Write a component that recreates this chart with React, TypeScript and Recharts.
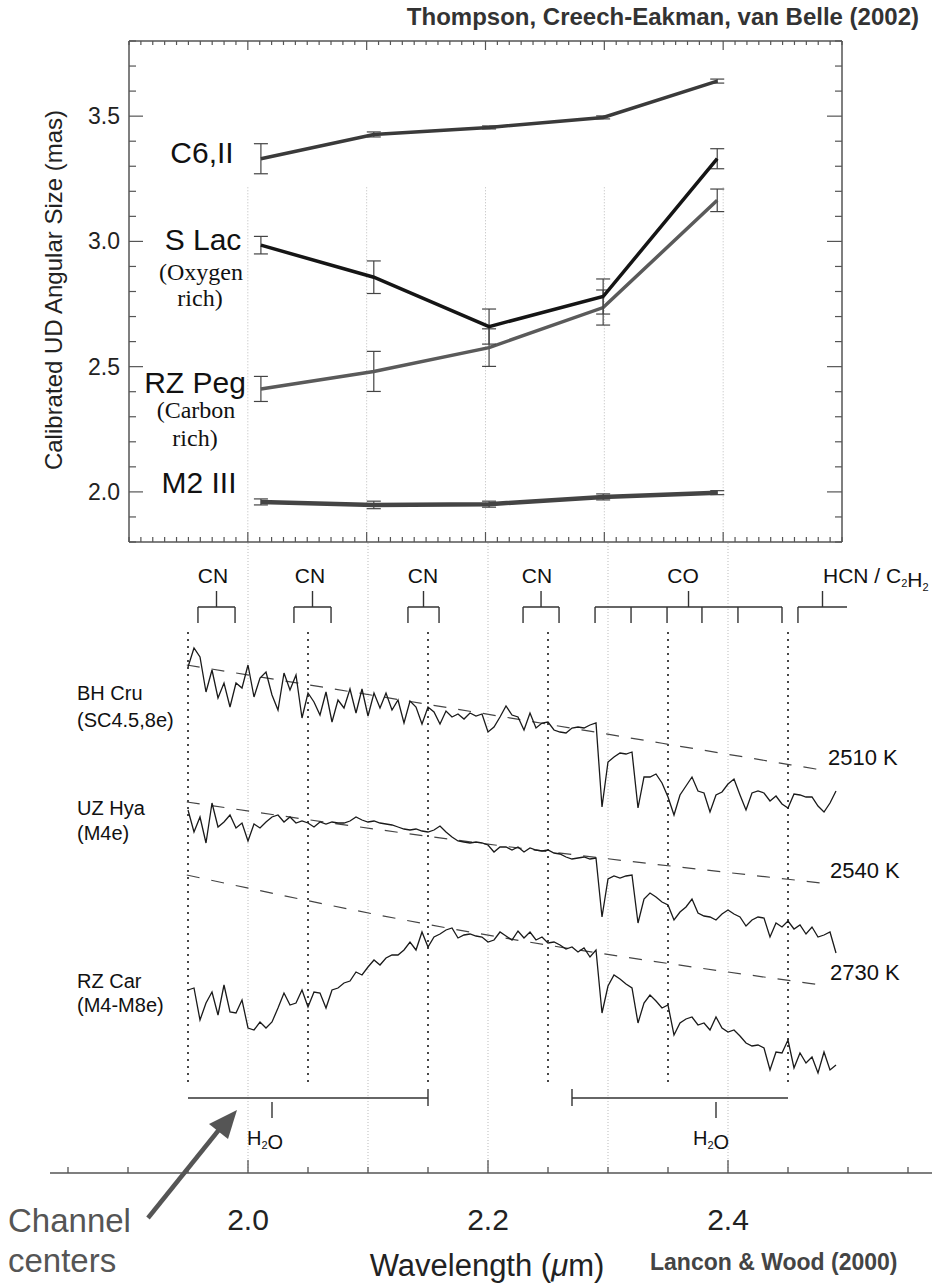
import React from "react";
import { ComposedChart, Line, XAxis, YAxis, ErrorBar, ReferenceLine } from "recharts";

const SANS = '"Liberation Sans", Arial, Helvetica, sans-serif';
const SERIF = '"Liberation Serif", "Times New Roman", serif';

// ---- top panel: calibrated UD diameters in the five channels ----
const CHANNEL_WL = [2.011, 2.106, 2.203, 2.299, 2.395];
const C6II = [3.33, 3.427, 3.455, 3.495, 3.64];
const C6II_ERR = [0.06, 0.01, 0.006, 0.006, 0.008];
const SLAC = [2.985, 2.857, 2.66, 2.78, 3.33];
const SLAC_ERR = [0.035, 0.065, 0.07, 0.07, 0.04];
const RZPEG = [2.411, 2.481, 2.576, 2.736, 3.164];
const RZPEG_ERR = [0.05, 0.08, 0.075, 0.07, 0.045];
const M2III = [1.96, 1.948, 1.951, 1.98, 1.997];
const M2III_ERR = [0.012, 0.015, 0.012, 0.012, 0.008];

const CHANNEL_CENTERS = [2.0, 2.1, 2.2, 2.3, 2.4];
const CHANNEL_EDGES = [1.95, 2.05, 2.15, 2.25, 2.35, 2.45];
const Y_TICK_LABELS = [2.0, 2.5, 3.0, 3.5];
const BOTTOM_TICKS = [1.85, 1.9, 1.95, 2.0, 2.05, 2.1, 2.15, 2.2, 2.25, 2.3, 2.35, 2.4, 2.45, 2.5, 2.55];
const BOTTOM_TICK_LABELS = [2.0, 2.2, 2.4];

// ---- bottom panel: Lancon & Wood spectra, sampled every 0.005 um from 1.95 um ----
const BH_CRU = [
  50.6, 52.5, 51.6, 48.1, 50.3, 47.5, 49.0, 46.6, 49.0, 48.5, 50.8, 47.6, 49.5, 50.1, 47.8, 46.3, 50.0, 48.3,
  49.8, 45.5, 48.0, 47.1, 45.8, 48.1, 45.1, 47.3, 46.5, 48.4, 46.0, 48.4, 45.7, 48.0, 46.5, 48.0, 46.3, 47.3,
  45.0, 47.2, 46.6, 44.9, 46.6, 46.1, 44.9, 46.2, 45.6, 45.9, 45.4, 46.0, 45.7, 45.9, 44.1, 44.6, 45.6, 46.7,
  45.8, 45.6, 44.3, 46.0, 44.5, 45.0, 45.1, 44.3, 44.1, 44.0, 44.5, 44.6, 44.5, 44.8, 45.0,
  36.6, 41.1, 41.6, 42.0, 41.9, 42.1, 36.5, 39.6, 39.6, 39.9, 39.0, 37.6, 35.8, 37.8, 38.7, 39.6, 38.2, 38.0,
  36.1, 37.8, 38.1, 38.9, 39.4, 37.8, 36.3, 38.0, 38.2, 38.0, 37.2, 37.7, 36.9, 36.5, 37.9, 37.8, 37.6, 37.6,
  36.7, 36.1, 37.0, 38.2,
];
const UZ_HYA = [
  36.3, 34.1, 35.6, 33.0, 37.0, 34.6, 35.1, 35.8, 34.5, 35.0, 33.2, 34.9, 34.5, 35.1, 35.6, 35.8, 35.1, 35.6,
  35.0, 35.2, 35.0, 34.6, 35.1, 34.9, 35.1, 35.0, 35.0, 35.2, 35.6, 35.3, 35.1, 35.2, 35.0, 34.9, 34.8, 34.6,
  34.4, 34.3, 34.4, 34.2, 34.1, 34.3, 34.7, 34.1, 33.6, 33.2, 33.1, 33.0, 33.1, 33.0, 32.8, 32.1, 32.6, 32.6,
  32.3, 32.6, 32.1, 32.5, 32.3, 32.2, 32.3, 32.0, 31.9, 31.6, 31.4, 31.5, 31.6, 31.4, 31.5,
  25.6, 29.4, 29.7, 29.5, 29.7, 29.8, 25.0, 27.4, 28.0, 27.6, 27.1, 26.8, 25.3, 26.1, 26.6, 27.4, 26.0, 25.7,
  25.6, 25.3, 25.9, 26.3, 25.9, 25.6, 24.7, 25.3, 25.6, 25.5, 23.6, 25.0, 24.6, 25.2, 24.4, 24.8, 23.9, 24.6,
  23.6, 23.8, 24.1, 22.0,
];
const RZ_CAR = [
  18.3, 18.5, 15.3, 17.0, 18.1, 15.8, 18.8, 16.1, 16.0, 17.3, 14.5, 14.3, 15.1, 14.5, 15.1, 16.5, 18.0, 16.8,
  17.0, 18.3, 16.6, 18.1, 18.0, 16.5, 18.3, 18.5, 19.0, 19.2, 20.1, 19.8, 20.6, 21.3, 20.8, 21.5, 21.8, 21.8,
  22.3, 23.1, 22.3, 24.1, 22.6, 23.6, 23.9, 24.3, 24.5, 23.5, 23.8, 23.9, 23.7, 23.6, 23.1, 23.3, 24.1, 23.7,
  23.3, 24.2, 23.5, 24.1, 23.3, 23.6, 23.0, 23.1, 22.8, 22.4, 22.6, 22.1, 22.5, 21.6, 22.3,
  16.0, 18.7, 19.8, 19.4, 18.9, 18.5, 15.0, 17.0, 17.8, 17.2, 16.5, 16.8, 13.8, 15.0, 15.4, 15.6, 14.8, 15.0,
  14.3, 15.6, 14.5, 14.1, 14.3, 13.7, 13.0, 12.7, 12.8, 12.5, 10.3, 12.1, 12.0, 13.3, 10.5, 12.0, 11.0, 11.6,
  10.0, 12.1, 10.3, 10.8,
];
const SPEC_WL = BH_CRU.map((_, i) => Math.round((1.95 + i * 0.005) * 1000) / 1000);

// blackbody continua (dashed)
const CONT_WL = [1.949, 2.148, 2.478];
const BH_CONT = [50.8, 46.9, 40.3];
const UZ_CONT = [37.1, 33.7, 29.0];
const RZ_CONT = [29.8, 24.9, 18.8];

// band markers
const CN_BANDS = [
  [1.9583, 1.9892],
  [2.0383, 2.0692],
  [2.1333, 2.1592],
  [2.2292, 2.2592],
];
const CO_LEGS = [2.2892, 2.3192, 2.3492, 2.3783, 2.4083, 2.445];
const HCN_BAND = [2.4583, 2.4992];
const H2O_BANDS = [
  { from: 1.95, to: 2.15, end: 2.15, stem: 2.02 },
  { from: 2.27, to: 2.45, end: 2.27, stem: 2.39 },
];

const topData = CHANNEL_WL.map((wl, i) => ({
  wl,
  c6: C6II[i],
  c6Err: C6II_ERR[i],
  slac: SLAC[i],
  slacErr: SLAC_ERR[i],
  rzpeg: RZPEG[i],
  rzpegErr: RZPEG_ERR[i],
  m2: M2III[i],
  m2Err: M2III_ERR[i],
}));
const spectrum = (flux: number[]) => flux.map((f, i) => ({ wl: SPEC_WL[i], f }));
const continuum = (flux: number[]) => flux.map((f, i) => ({ wl: CONT_WL[i], f }));

const TOP_X_TICKS = Array.from({ length: 61 }, (_, i) => Math.round((1.9 + i * 0.01) * 100) / 100);
const TOP_Y_TICKS = Array.from({ length: 21 }, (_, i) => Math.round((1.8 + i * 0.1) * 10) / 10);

const isIn = (v: number, list: number[]) => list.some((m) => Math.abs(m - v) < 1e-6);
const AXIS = "#555";

// inward-pointing tick marks
const xTick = (dir: number, minor: number, major: number) => (p: any) => {
  const len = isIn(p.payload.value, CHANNEL_CENTERS) ? major : minor;
  return <line x1={p.x} x2={p.x} y1={p.y} y2={p.y + dir * len} stroke={AXIS} strokeWidth={1.2} />;
};
const leftYTick = (p: any) => {
  const v = p.payload.value;
  const major = isIn(v, Y_TICK_LABELS);
  return (
    <g>
      <line x1={p.x} x2={p.x + (major ? 14 : 7)} y1={p.y} y2={p.y} stroke={AXIS} strokeWidth={1.2} />
      {major && (
        <text x={p.x - 9} y={p.y + 8} textAnchor="end" fontSize={23} fill="#222" fontFamily={SANS}>
          {v.toFixed(1)}
        </text>
      )}
    </g>
  );
};
const rightYTick = (p: any) => {
  const major = isIn(p.payload.value, Y_TICK_LABELS);
  return <line x1={p.x} x2={p.x - (major ? 15 : 7)} y1={p.y} y2={p.y} stroke={AXIS} strokeWidth={1.2} />;
};
const bottomTick = (p: any) => {
  const v = p.payload.value;
  const major = isIn(v, BOTTOM_TICK_LABELS);
  return (
    <g>
      <line x1={p.x} x2={p.x} y1={p.y} y2={p.y - (major ? 13 : 6)} stroke={AXIS} strokeWidth={1.3} />
      {major && (
        <text x={p.x} y={p.y + 57} textAnchor="middle" fontSize={30} fill="#222" fontFamily={SANS}>
          {v.toFixed(1)}
        </text>
      )}
    </g>
  );
};

// bracket geometry (bottom panel y units)
const BR_TOP = 58.2;
const BR_BAR = 56.6;
const BR_LEG = 55.0;
type Seg = [number, number, number, number];
const bracketSegs: Seg[] = [];
const addBracket = (from: number, to: number, legs: number[], stem: number) => {
  bracketSegs.push([from, BR_BAR, to, BR_BAR]);
  legs.forEach((l) => bracketSegs.push([l, BR_BAR, l, BR_LEG]));
  bracketSegs.push([stem, BR_TOP, stem, BR_BAR]);
};
CN_BANDS.forEach(([a, b]) => addBracket(a, b, [a, b], (a + b) / 2));
addBracket(CO_LEGS[0], CO_LEGS[CO_LEGS.length - 1], CO_LEGS, (CO_LEGS[0] + CO_LEGS[CO_LEGS.length - 1]) / 2);
addBracket(HCN_BAND[0], HCN_BAND[1], [HCN_BAND[0]], (HCN_BAND[0] + HCN_BAND[1]) / 2);
H2O_BANDS.forEach((b) => {
  bracketSegs.push([b.from, 7.5, b.to, 7.5]);
  bracketSegs.push([b.end, 8.4, b.end, 6.7]);
  bracketSegs.push([b.stem, 7.1, b.stem, 5.5]);
});

function TopPanel() {
  // axes are 1px thick so the plot box is 129..842 x 41..542
  return (
    <ComposedChart width={938} height={560} data={topData} margin={{ top: 40, right: 95, bottom: 17, left: 128 }}>
      <XAxis xAxisId="x" dataKey="wl" type="number" domain={[1.9, 2.5]} allowDataOverflow height={1}
        ticks={TOP_X_TICKS} interval={0} tickSize={0} tickMargin={0} tickLine={false}
        tick={xTick(-1, 5, 10)} axisLine={{ stroke: AXIS, strokeWidth: 1.5 }} />
      <XAxis xAxisId="xt" dataKey="wl" type="number" orientation="top" domain={[1.9, 2.5]} allowDataOverflow height={1}
        ticks={TOP_X_TICKS} interval={0} tickSize={0} tickMargin={0} tickLine={false}
        tick={xTick(1, 4, 9)} axisLine={{ stroke: AXIS, strokeWidth: 1.5 }} />
      <YAxis yAxisId="y" type="number" domain={[1.8, 3.8]} allowDataOverflow width={1}
        ticks={TOP_Y_TICKS} interval={0} tickSize={0} tickMargin={0} tickLine={false}
        tick={leftYTick} axisLine={{ stroke: AXIS, strokeWidth: 1.5 }} />
      <YAxis yAxisId="yr" orientation="right" type="number" domain={[1.8, 3.8]} allowDataOverflow width={1}
        ticks={TOP_Y_TICKS} interval={0} tickSize={0} tickMargin={0} tickLine={false}
        tick={rightYTick} axisLine={{ stroke: AXIS, strokeWidth: 1.5 }} />

      {CHANNEL_CENTERS.map((c) => (
        <ReferenceLine key={c} xAxisId="x" yAxisId="y" segment={[{ x: c, y: 3.216 }, { x: c, y: 1.8 }]}
          stroke="#bbb" strokeDasharray="1 2" strokeWidth={1} />
      ))}

      <Line xAxisId="x" yAxisId="y" dataKey="c6" type="linear" stroke="#3a3a3a" strokeWidth={3.5} dot={false} isAnimationActive={false}>
        <ErrorBar dataKey="c6Err" direction="y" width={7} stroke="#444" strokeWidth={1.2} />
      </Line>
      <Line xAxisId="x" yAxisId="y" dataKey="rzpeg" type="linear" stroke="#5a5a5a" strokeWidth={3.5} dot={false} isAnimationActive={false}>
        <ErrorBar dataKey="rzpegErr" direction="y" width={7} stroke="#444" strokeWidth={1.2} />
      </Line>
      <Line xAxisId="x" yAxisId="y" dataKey="slac" type="linear" stroke="#151515" strokeWidth={3.5} dot={false} isAnimationActive={false}>
        <ErrorBar dataKey="slacErr" direction="y" width={7} stroke="#444" strokeWidth={1.2} />
      </Line>
      <Line xAxisId="x" yAxisId="y" dataKey="m2" type="linear" stroke="#444" strokeWidth={4.5} dot={false} isAnimationActive={false}>
        <ErrorBar dataKey="m2Err" direction="y" width={7} stroke="#444" strokeWidth={1.2} />
      </Line>
    </ComposedChart>
  );
}

function BottomPanel() {
  return (
    <ComposedChart width={938} height={741} margin={{ top: 0, right: 6, bottom: 110, left: 50 }}>
      <XAxis xAxisId="x" dataKey="wl" type="number" domain={[1.835, 2.57]} allowDataOverflow height={1}
        ticks={BOTTOM_TICKS} interval={0} tickSize={0} tickMargin={0} tickLine={false}
        tick={bottomTick} axisLine={{ stroke: AXIS, strokeWidth: 1.5 }} />
      <YAxis yAxisId="y" type="number" domain={[0, 63]} allowDataOverflow hide />

      {CHANNEL_CENTERS.map((c) => (
        <ReferenceLine key={"c" + c} xAxisId="x" yAxisId="y" segment={[{ x: c, y: 63 }, { x: c, y: 0 }]}
          stroke="#bbb" strokeDasharray="1 2" strokeWidth={1} />
      ))}
      {CHANNEL_EDGES.map((e) => (
        <ReferenceLine key={"e" + e} xAxisId="x" yAxisId="y" segment={[{ x: e, y: 54.1 }, { x: e, y: 9.1 }]}
          stroke="#333" strokeDasharray="2 5" strokeWidth={1.8} />
      ))}
      {bracketSegs.map((s, i) => (
        <ReferenceLine key={"b" + i} xAxisId="x" yAxisId="y" segment={[{ x: s[0], y: s[1] }, { x: s[2], y: s[3] }]}
          stroke="#333" strokeWidth={1.4} />
      ))}

      {[BH_CONT, UZ_CONT, RZ_CONT].map((c, i) => (
        <Line key={"cont" + i} xAxisId="x" yAxisId="y" data={continuum(c)} dataKey="f" type="monotone"
          stroke="#444" strokeWidth={1.2} strokeDasharray="13 12" dot={false} isAnimationActive={false} />
      ))}
      {[BH_CRU, UZ_HYA, RZ_CAR].map((s, i) => (
        <Line key={"spec" + i} xAxisId="x" yAxisId="y" data={spectrum(s)} dataKey="f" type="linear"
          stroke="#1a1a1a" strokeWidth={1.3} dot={false} isAnimationActive={false} />
      ))}
    </ComposedChart>
  );
}

const sub = (s: string) => (
  <>
    <tspan fontSize={11} dy={4}>{s}</tspan>
    <tspan dy={-4}></tspan>
  </>
);

function Annotations() {
  const star = { fontFamily: SANS, fontSize: 30, fill: "#111", textAnchor: "middle" as const };
  const note = { fontFamily: SERIF, fontSize: 24, fill: "#111", textAnchor: "middle" as const };
  const small = { fontFamily: SANS, fontSize: 20, fill: "#111" };
  return (
    <svg width={938} height={1284} style={{ position: "absolute", left: 0, top: 0, pointerEvents: "none" }}>
      <text x={919} y={25} textAnchor="end" fontFamily={SANS} fontWeight="bold" fontSize={24} fill="#333">
        Thompson, Creech-Eakman, van Belle (2002)
      </text>
      <text transform="translate(62,290) rotate(-90)" textAnchor="middle" fontFamily={SANS} fontSize={24} fill="#222">
        Calibrated UD Angular Size (mas)
      </text>

      <text x={202} y={163} {...star}>C6,II</text>
      <text x={203} y={250} {...star}>S Lac</text>
      <text x={201} y={280} {...note}>(Oxygen</text>
      <text x={200} y={306} {...note}>rich)</text>
      <text x={195} y={393} {...star}>RZ Peg</text>
      <text x={196} y={418} {...note}>(Carbon</text>
      <text x={195} y={446} {...note}>rich)</text>
      <text x={199} y={493} {...star}>M2 III</text>

      {[213, 310, 423, 537].map((x) => (
        <text key={x} x={x} y={583} textAnchor="middle" fontFamily={SANS} fontSize={21} fill="#111">CN</text>
      ))}
      <text x={683} y={583} textAnchor="middle" fontFamily={SANS} fontSize={21} fill="#111">CO</text>
      <text x={823} y={583} fontFamily={SANS} fontSize={21} fill="#111">
        HCN / C{sub("2")}H{sub("2")}
      </text>

      <text x={77} y={700} {...small}>BH Cru</text>
      <text x={77} y={727} {...small}>(SC4.5,8e)</text>
      <text x={77} y={815} {...small}>UZ Hya</text>
      <text x={77} y={840} {...small}>(M4e)</text>
      <text x={77} y={988} {...small}>RZ Car</text>
      <text x={77} y={1012} {...small}>(M4-M8e)</text>

      <text x={828} y={765} fontFamily={SANS} fontSize={22} fill="#111">2510 K</text>
      <text x={830} y={878} fontFamily={SANS} fontSize={22} fill="#111">2540 K</text>
      <text x={830} y={980} fontFamily={SANS} fontSize={22} fill="#111">2730 K</text>

      <text x={247} y={1145} fontFamily={SANS} fontSize={20} fill="#111">H{sub("2")}O</text>
      <text x={693} y={1145} fontFamily={SANS} fontSize={20} fill="#111">H{sub("2")}O</text>

      <line x1={148} y1={1218} x2={222} y2={1126} stroke="#555" strokeWidth={4.5} />
      <polygon points="237,1110 228,1139 209,1124" fill="#555" />
      <text x={8} y={1232} fontFamily={SANS} fontSize={33} fill="#555">Channel</text>
      <text x={8} y={1272} fontFamily={SANS} fontSize={33} fill="#555">centers</text>

      <text x={487} y={1276} textAnchor="middle" fontFamily={SANS} fontSize={31} fill="#222">
        Wavelength (<tspan fontStyle="italic">μ</tspan>m)
      </text>
      <text x={650} y={1270} fontFamily={SANS} fontWeight="bold" fontSize={23} fill="#444">
        Lancon &amp; Wood (2000)
      </text>
    </svg>
  );
}

export default function App() {
  return (
    <div style={{ position: "absolute", left: 0, top: 0, width: 938, height: 1284, background: "#fff", fontFamily: SANS }}>
      <div style={{ position: "absolute", left: 0, top: 0 }}>
        <TopPanel />
      </div>
      <div style={{ position: "absolute", left: 0, top: 543 }}>
        <BottomPanel />
      </div>
      <Annotations />
    </div>
  );
}
